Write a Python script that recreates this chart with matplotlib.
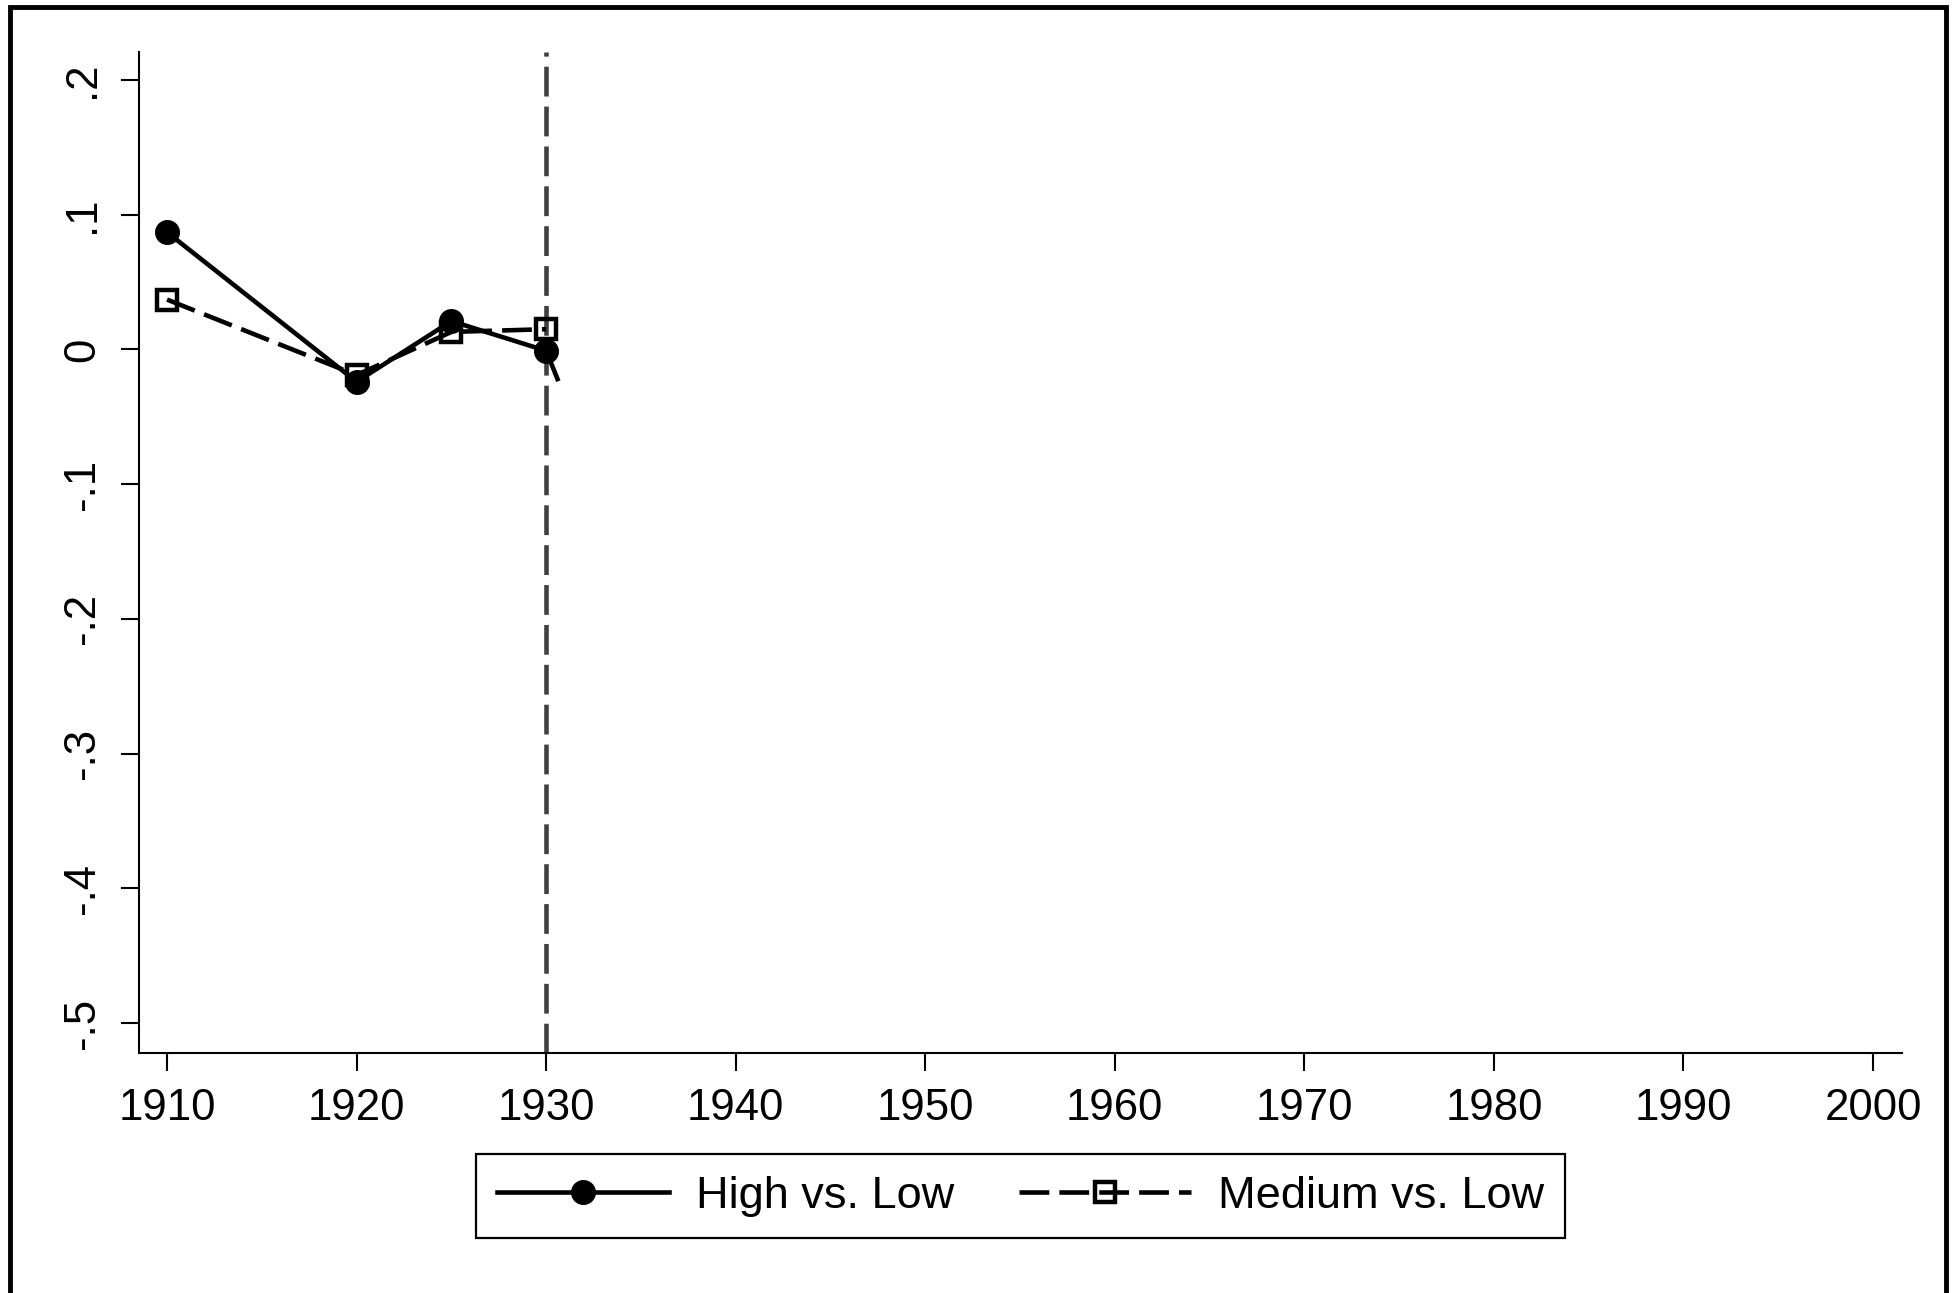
import matplotlib
matplotlib.use('Agg')
import matplotlib.pyplot as plt
from matplotlib.patches import Rectangle

plt.rcParams['font.family'] = ['Liberation Sans', 'DejaVu Sans']

# data
years = [1910, 1920, 1925, 1930]
high_low = [0.087, -0.024, 0.021, -0.001]
medium_low = [0.037, -0.019, 0.013, 0.015]
# short piece of the High line that runs on past 1930
high_tail_x = [1930, 1930.6]
high_tail_y = [-0.001, -0.022]

x_ticks = [1910, 1920, 1930, 1940, 1950, 1960, 1970, 1980, 1990, 2000]
y_ticks = [-0.5, -0.4, -0.3, -0.2, -0.1, 0, 0.1, 0.2]
y_labels = ['-.5', '-.4', '-.3', '-.2', '-.1', '0', '.1', '.2']
cutoff_year = 1930

fs = 31.5
lw = 3.3
dash = (6.5, 2.2)

fig = plt.figure(figsize=(19.55, 12.93), dpi=100)
ax = fig.add_axes([0.0711, 0.1856, 0.9729 - 0.0711, 0.9598 - 0.1856])

ax.axvline(cutoff_year, color='#404040', lw=lw, ls=(0, dash), zorder=1)

ax.plot(years, high_low, '-', color='black', lw=lw, marker='o',
        markersize=16, markeredgewidth=2, label='High vs. Low', zorder=3)
ax.plot(high_tail_x, high_tail_y, '-', color='black', lw=lw, zorder=3)
ax.plot(years, medium_low, color='black', lw=lw, ls=(0, dash), marker='s',
        markersize=14.5, markerfacecolor='none', markeredgewidth=3.2,
        label='Medium vs. Low', zorder=2)

ax.set_xlim(1908.52, 2001.53)
ax.set_ylim(-0.5223, 0.2208)
ax.set_xticks(x_ticks)
ax.set_xticklabels([str(y) for y in x_ticks])
ax.set_yticks(y_ticks)
ax.set_yticklabels(y_labels, rotation=90, va='center')

for side in ['top', 'right']:
    ax.spines[side].set_visible(False)
for side in ['left', 'bottom']:
    ax.spines[side].set_linewidth(1.5)
ax.tick_params(axis='both', length=13, width=1.5, labelsize=fs)
ax.tick_params(axis='x', pad=12)
ax.tick_params(axis='y', pad=13)

fig.legend(loc='center', bbox_to_anchor=(0.522, 0.075), ncol=2,
           fontsize=32.5, frameon=True, fancybox=False, edgecolor='black',
           handlelength=3.8, handletextpad=0.6, columnspacing=1.45,
           borderpad=0.47, framealpha=1).get_frame().set_linewidth(1.6)

# outer frame (bottom edge falls outside the picture)
fig.patches.append(Rectangle((0.00486, -0.02), 0.9954 - 0.00486, 0.99459 + 0.02,
                             transform=fig.transFigure, fill=False,
                             edgecolor='black', lw=3.5))

fig.savefig('out.png', dpi=100, facecolor='white')
